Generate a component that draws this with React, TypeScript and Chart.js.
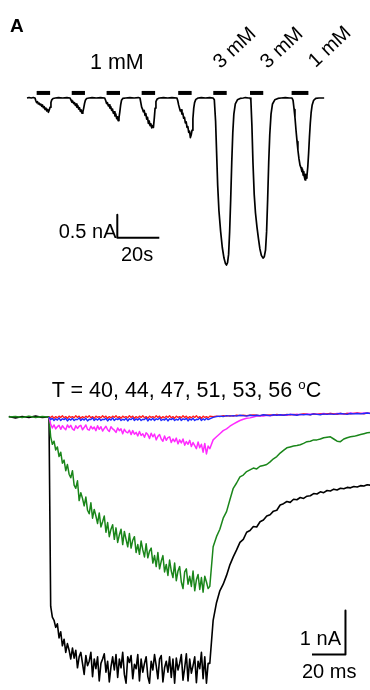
import React, { useEffect, useRef } from "react";
import { Chart, registerables } from "chart.js";

Chart.register(...registerables);

// ---------- Panel A: agonist applications (time in s, current in nA) ----------
const panelATrace: [number, number][] = [
  [0, 0], [1, 0.01], [2, 0], [3, 0.01], [3.8, 0],
  [4.2, -0.06], [4.6, -0.1], [5.0, -0.08], [5.4, -0.13], [5.8, -0.11], [6.2, -0.15], [6.6, -0.13], [7.0, -0.18], [7.4, -0.15], [7.8, -0.21], [8.2, -0.19], [8.6, -0.25], [9.0, -0.22], [9.4, -0.28], [9.8, -0.25], [10.2, -0.31], [10.6, -0.26], [11.0, -0.2], [11.4, -0.1], [11.8, -0.04], [12.4, -0.01], [13.5, 0],
  [15, 0.01], [17, 0], [19, 0.01], [20.5, 0],
  [21, -0.05], [21.4, -0.09], [21.8, -0.07], [22.2, -0.12], [22.6, -0.1], [23.0, -0.16], [23.4, -0.13], [23.8, -0.2], [24.2, -0.17], [24.6, -0.24], [25.0, -0.21], [25.4, -0.29], [25.8, -0.26], [26.2, -0.33], [26.6, -0.3], [27.0, -0.22], [27.4, -0.12], [27.8, -0.05], [28.4, -0.01], [29.5, 0],
  [31, 0.01], [33, 0], [35, 0.01], [37, 0],
  [37.5, -0.06], [37.9, -0.12], [38.3, -0.1], [38.7, -0.17], [39.1, -0.15], [39.5, -0.22], [39.9, -0.19], [40.3, -0.27], [40.7, -0.24], [41.1, -0.33], [41.5, -0.3], [41.9, -0.39], [42.3, -0.35], [42.7, -0.45], [43.1, -0.41], [43.4, -0.49], [43.8, -0.43], [44.2, -0.3], [44.6, -0.15], [45.0, -0.05], [45.6, -0.01], [47, 0],
  [49, 0.01], [51, 0], [53, 0.01], [53.8, 0],
  [54.2, -0.1], [54.6, -0.2], [55.0, -0.24], [55.4, -0.3], [55.8, -0.27], [56.2, -0.38], [56.6, -0.34], [57.0, -0.46], [57.4, -0.42], [57.8, -0.55], [58.2, -0.5], [58.6, -0.6], [59.0, -0.56], [59.4, -0.65], [59.8, -0.6], [60.2, -0.64], [60.6, -0.45], [61.0, -0.22], [61.4, -0.08], [62, -0.02], [63, 0],
  [65, 0.01], [67, 0], [69, 0.01], [71.4, 0],
  [71.8, -0.06], [72.2, -0.15], [72.6, -0.22], [73.0, -0.28], [73.4, -0.26], [73.8, -0.35], [74.2, -0.33], [74.6, -0.44], [75.0, -0.42], [75.4, -0.54], [75.8, -0.52], [76.2, -0.64], [76.6, -0.62], [77.0, -0.75], [77.4, -0.72], [77.8, -0.86], [78.2, -0.8], [78.6, -0.7], [79.0, -0.45], [79.4, -0.22], [79.8, -0.1], [80.4, -0.03], [81.5, 0],
  [83, 0.01], [85, 0], [87, 0.01], [88.6, 0],
  [89.2, -0.04], [89.8, -0.5], [90.3, -1.2], [90.8, -1.9], [91.4, -2.45], [92.2, -2.9], [93.0, -3.25], [93.8, -3.48], [94.5, -3.6], [95.0, -3.63], [95.5, -3.58], [96.0, -3.4], [96.5, -2.9], [97.0, -2.2], [97.5, -1.4], [98.0, -0.75], [98.5, -0.35], [99.2, -0.13], [100.2, -0.04], [101.5, -0.01], [103, 0],
  [104, 0.01], [105.5, 0], [106.2, 0],
  [106.6, -0.04], [107.1, -0.6], [107.6, -1.4], [108.2, -2.1], [108.8, -2.5], [109.5, -2.8], [110.2, -3.05], [110.9, -3.28], [111.6, -3.42], [112.4, -3.48], [113.0, -3.45], [113.6, -3.3], [114.1, -2.9], [114.6, -2.2], [115.1, -1.4], [115.6, -0.8], [116.2, -0.35], [116.9, -0.13], [118, -0.04], [119.5, -0.01], [121, 0],
  [123, 0.01], [125, 0], [126.2, 0],
  [126.7, -0.05], [127.2, -0.25], [127.6, -0.42], [128.1, -0.7], [128.6, -0.95], [129.0, -1.13], [129.5, -1.32], [130.0, -1.46], [130.5, -1.52], [130.9, -1.6], [131.2, -1.55], [131.5, -1.68], [131.8, -1.6], [132.1, -1.72], [132.4, -1.78], [132.7, -1.66], [133.0, -1.74], [133.3, -1.7], [133.7, -1.5], [134.1, -1.2], [134.5, -0.85], [134.9, -0.55], [135.3, -0.32], [135.8, -0.15], [136.5, -0.05], [137.5, -0.01], [139, 0], [141.5, 0],
];
const stimStartS = [4.6, 21.3, 37.9, 54.6, 72.0, 88.7, 106.2, 126.0];
const stimEndS = [11.0, 27.6, 44.3, 61.0, 78.4, 95.1, 112.5, 134.0];
const stimMarkLevelNA = 0.11;
const panelAConcLabels = ["3 mM", "3 mM", "1 mM"];
const panelAScaleS = 20;
const panelAScaleNA = 0.5;
const panelAScaleCorner = [43, -3.04];

// ---------- Panel B: temperature steps (time in ms, current in nA) ----------
const temperaturesC = [40, 44, 47, 51, 53, 56];
const preTimesMs = [-24, -20, -16, -12, -8, -4, -1];
const stimTimesMs = Array.from({ length: 97 }, (_, i) => i);
const postTimesMs = Array.from({ length: 48 }, (_, i) => 98 + 2 * i);

const black56Pre = [0.01, -0.02, 0.01, -0.01, 0.02, -0.01, 0];
const black56Stim = [
  0, -4.3, -4.55, -4.62, -4.78, -4.7, -5.02, -4.88, -5.2, -5.05,
  -5.35, -5.15, -5.3, -5.5, -5.25, -5.48, -5.3, -5.7, -5.45, -5.35,
  -5.6, -5.85, -5.42, -5.65, -5.55, -5.35, -5.9, -5.5, -5.72, -5.45,
  -6.0, -5.6, -5.5, -5.38, -5.8, -5.55, -6.02, -5.68, -5.45, -5.75,
  -5.4, -5.92, -5.5, -5.7, -5.35, -5.85, -6.05, -5.45, -5.58, -5.42,
  -5.95, -5.62, -5.72, -5.4, -6.0, -5.5, -5.8, -5.6, -5.45, -5.9,
  -6.05, -5.55, -5.75, -5.4, -5.65, -5.95, -5.5, -5.42, -6.02, -5.7,
  -5.55, -5.8, -5.45, -5.92, -5.5, -6.05, -5.48, -5.75, -5.6, -5.4,
  -5.98, -5.7, -5.38, -6.0, -5.5, -5.82, -5.65, -5.45, -6.04, -5.55,
  -5.72, -5.35, -5.95, -5.45, -6.05, -5.6, -5.6,
];
const black56Post = [
  -4.62, -4.22, -3.95, -3.8, -3.6, -3.36, -3.18, -3.02, -2.85, -2.78,
  -2.62, -2.58, -2.49, -2.5, -2.38, -2.34, -2.25, -2.22, -2.14, -2.12,
  -2.0, -1.97, -1.92, -1.94, -1.87, -1.88, -1.83, -1.85, -1.8, -1.79,
  -1.74, -1.75, -1.7, -1.72, -1.67, -1.68, -1.64, -1.66, -1.62, -1.63,
  -1.6, -1.61, -1.58, -1.59, -1.56, -1.57, -1.54, -1.55,
];

const green53Pre = [0, 0.01, -0.01, 0.02, -0.01, 0.01, 0];
const green53Stim = [
  0, -0.45, -0.62, -0.55, -0.75, -0.68, -0.9, -0.8, -1.05, -0.98,
  -1.22, -1.08, -1.3, -1.38, -1.22, -1.55, -1.62, -1.45, -1.9, -1.72,
  -1.85, -2.02, -1.82, -2.12, -2.2, -1.95, -2.3, -2.1, -2.25, -2.42,
  -2.18, -2.5, -2.38, -2.25, -2.62, -2.4, -2.72, -2.55, -2.45, -2.78,
  -2.52, -2.85, -2.68, -2.55, -2.9, -2.6, -2.78, -2.95, -2.65, -2.98,
  -2.8, -2.72, -3.08, -2.9, -3.12, -2.82, -3.02, -3.18, -2.88, -3.2,
  -3.05, -2.98, -3.32, -3.15, -3.4, -3.08, -3.45, -3.28, -3.15, -3.52,
  -3.35, -3.6, -3.25, -3.5, -3.65, -3.32, -3.72, -3.5, -3.4, -3.75,
  -3.9, -3.52, -3.45, -3.8, -3.62, -3.85, -3.5, -3.95, -3.7, -3.58,
  -3.92, -3.65, -3.98, -3.62, -3.75, -3.9, -3.85,
];
const green53Post = [
  -2.95, -2.72, -2.55, -2.3, -2.15, -1.88, -1.62, -1.5, -1.36, -1.32,
  -1.24, -1.2, -1.16, -1.18, -1.12, -1.1, -1.08, -1.02, -0.95, -0.9,
  -0.82, -0.76, -0.7, -0.68, -0.66, -0.65, -0.63, -0.6, -0.56, -0.55,
  -0.52, -0.52, -0.5, -0.47, -0.46, -0.45, -0.5, -0.55, -0.56, -0.5,
  -0.47, -0.45, -0.44, -0.42, -0.4, -0.38, -0.36, -0.35,
];

const magenta51Stim = [
  0, -0.16, -0.25, -0.18, -0.27, -0.22, -0.19, -0.28, -0.2, -0.25,
  -0.29, -0.18, -0.24, -0.19, -0.27, -0.3, -0.2, -0.26, -0.21, -0.19,
  -0.29, -0.24, -0.18, -0.28, -0.3, -0.21, -0.27, -0.23, -0.31, -0.2,
  -0.28, -0.22, -0.32, -0.26, -0.21, -0.29, -0.33, -0.22, -0.27, -0.3,
  -0.35, -0.25, -0.31, -0.27, -0.38, -0.28, -0.34, -0.36, -0.3, -0.4,
  -0.31, -0.39, -0.35, -0.43, -0.33, -0.42, -0.38, -0.46, -0.36, -0.4,
  -0.49, -0.37, -0.45, -0.39, -0.52, -0.44, -0.4, -0.5, -0.55, -0.43,
  -0.53, -0.47, -0.45, -0.58, -0.5, -0.56, -0.48, -0.61, -0.52, -0.59,
  -0.5, -0.64, -0.56, -0.62, -0.53, -0.67, -0.58, -0.65, -0.72, -0.57,
  -0.7, -0.62, -0.8, -0.6, -0.84, -0.66, -0.72,
];
const magenta51Post = [
  -0.52, -0.45, -0.38, -0.31, -0.27, -0.21, -0.16, -0.12, -0.08, -0.05,
  -0.03, -0.02, 0, 0.02, 0.03, 0.02, 0.04, 0.03, 0.04, 0.05,
  0.04, 0.05, 0.04, 0.06, 0.05, 0.06, 0.05, 0.06, 0.07, 0.06,
  0.07, 0.06, 0.07, 0.08, 0.07, 0.08, 0.07, 0.08, 0.08, 0.07,
  0.08, 0.09, 0.08, 0.09, 0.08, 0.09, 0.09, 0.08,
];

const blue47Stim = [
  0, -0.06, -0.03, -0.08, -0.04, -0.07, -0.02, -0.08, -0.04, -0.06,
  -0.03, -0.09, -0.04, -0.07, -0.03, -0.08, -0.05, -0.06, -0.02, -0.08,
  -0.04, -0.07, -0.03, -0.09, -0.05, -0.06, -0.02, -0.08, -0.04, -0.07,
  -0.03, -0.08, -0.05, -0.06, -0.03, -0.09, -0.04, -0.07, -0.02, -0.08,
  -0.04, -0.06, -0.03, -0.08, -0.05, -0.07, -0.03, -0.09, -0.04, -0.06,
  -0.02, -0.08, -0.04, -0.07, -0.03, -0.08, -0.05, -0.06, -0.02, -0.09,
  -0.04, -0.07, -0.03, -0.08, -0.04, -0.06, -0.02, -0.08, -0.05, -0.07,
  -0.03, -0.09, -0.04, -0.06, -0.03, -0.08, -0.05, -0.07, -0.02, -0.08,
  -0.04, -0.06, -0.03, -0.09, -0.04, -0.07, -0.03, -0.08, -0.05, -0.06,
  -0.02, -0.08, -0.04, -0.07, -0.03, -0.06, -0.04,
];
const blue47Post = [
  -0.01, 0.01, 0.02, 0.01, 0.03, 0.02, 0.03, 0.02, 0.04, 0.03,
  0.02, 0.04, 0.03, 0.04, 0.03, 0.05, 0.04, 0.03, 0.05, 0.04,
  0.05, 0.04, 0.05, 0.06, 0.05, 0.04, 0.06, 0.05, 0.06, 0.05,
  0.07, 0.06, 0.05, 0.07, 0.06, 0.07, 0.06, 0.07, 0.08, 0.07,
  0.06, 0.08, 0.07, 0.08, 0.07, 0.08, 0.09, 0.08,
];

const red44Stim = [
  0, -0.01, 0.02, -0.03, 0.01, -0.02, 0.02, -0.01, 0.03, -0.02,
  0.01, -0.03, 0.02, -0.01, 0.01, -0.02, 0.03, -0.01, 0.02, -0.03,
  0.01, -0.02, 0.02, -0.01, 0.03, -0.02, 0.01, -0.03, 0.02, -0.01,
  0.01, -0.02, 0.03, -0.01, 0.02, -0.03, 0.01, -0.02, 0.02, -0.01,
  0.03, -0.02, 0.01, -0.03, 0.02, -0.01, 0.01, -0.02, 0.03, -0.01,
  0.02, -0.03, 0.01, -0.02, 0.02, -0.01, 0.03, -0.02, 0.01, -0.03,
  0.02, -0.01, 0.01, -0.02, 0.03, -0.01, 0.02, -0.03, 0.01, -0.02,
  0.02, -0.01, 0.03, -0.02, 0.01, -0.03, 0.02, -0.01, 0.01, -0.02,
  0.03, -0.01, 0.02, -0.03, 0.01, -0.02, 0.02, -0.01, 0.03, -0.02,
  0.01, -0.03, 0.02, -0.01, 0.01, -0.02, 0.02,
];
const red44Post = [
  0.01, 0.02, 0.01, 0.03, 0.02, 0.03, 0.02, 0.04, 0.03, 0.04,
  0.03, 0.04, 0.05, 0.04, 0.03, 0.05, 0.04, 0.05, 0.04, 0.06,
  0.05, 0.04, 0.06, 0.05, 0.06, 0.05, 0.06, 0.07, 0.06, 0.05,
  0.07, 0.06, 0.07, 0.06, 0.07, 0.08, 0.07, 0.06, 0.08, 0.07,
  0.08, 0.07, 0.08, 0.09, 0.08, 0.07, 0.09, 0.08,
];

const panelBScaleMs = 20;
const panelBScaleNA = 1;
const panelBScaleCorner = [177, -5.4];

// ---------- helpers ----------
const FONT = '"Liberation Sans", Arial, Helvetica, sans-serif';

function zip(xs: number[], ys: number[]) {
  const n = Math.min(xs.length, ys.length);
  const out: { x: number; y: number }[] = [];
  for (let i = 0; i < n; i++) out.push({ x: xs[i], y: ys[i] });
  return out;
}

function trace(pre: number[] | null, stim: number[], post: number[]) {
  return [
    ...(pre ? zip(preTimesMs, pre) : []),
    ...zip(stimTimesMs, stim),
    ...zip(postTimesMs, post),
  ];
}

function lineDs(data: { x: number; y: number }[], color: string, width: number) {
  return {
    data,
    borderColor: color,
    backgroundColor: color,
    borderWidth: width,
    pointRadius: 0,
    fill: false,
    tension: 0,
    clip: false as any,
    borderCapStyle: "butt" as const,
    borderJoinStyle: "round" as const,
  };
}

function makeChart(
  canvas: HTMLCanvasElement,
  datasets: any[],
  xr: [number, number],
  yr: [number, number]
) {
  return new Chart(canvas, {
    type: "line",
    data: { datasets },
    options: {
      animation: false,
      responsive: false,
      maintainAspectRatio: false,
      events: [],
      layout: { padding: 0 },
      plugins: { legend: { display: false }, tooltip: { enabled: false } },
      scales: {
        x: { type: "linear", min: xr[0], max: xr[1], display: false },
        y: { type: "linear", min: yr[0], max: yr[1], display: false },
      },
    },
  });
}

export default function App() {
  const topRef = useRef<HTMLCanvasElement>(null);
  const botRef = useRef<HTMLCanvasElement>(null);

  useEffect(() => {
    // Panel A
    const stimSets = stimStartS.map((s, i) =>
      lineDs(
        [
          { x: s, y: stimMarkLevelNA },
          { x: stimEndS[i], y: stimMarkLevelNA },
        ],
        "#000",
        4
      )
    );
    const [ax, ay] = panelAScaleCorner;
    const topSets = [
      lineDs(panelATrace.map(([x, y]) => ({ x, y })), "#000", 1.7),
      ...stimSets,
      lineDs(
        [
          { x: ax, y: ay + panelAScaleNA },
          { x: ax, y: ay },
          { x: ax + panelAScaleS, y: ay },
        ],
        "#000",
        2
      ),
    ];
    const c1 = makeChart(topRef.current!, topSets, [-12.857, 163.333], [-4.3913, 2.1304]);

    // Panel B (first dataset drawn on top)
    const [bx, by] = panelBScaleCorner;
    const botSets = [
      lineDs(trace(null, blue47Stim, blue47Post), "#1f2bff", 1.4),
      lineDs(trace(null, red44Stim, red44Post), "#ff1a1a", 1.3),
      lineDs(trace(null, magenta51Stim, magenta51Post), "#ff2bff", 1.5),
      lineDs(trace(green53Pre, green53Stim, green53Post), "#1a861a", 1.5),
      lineDs(trace(black56Pre, black56Stim, black56Post), "#000", 1.6),
      lineDs(
        [
          { x: bx, y: by + panelBScaleNA },
          { x: bx, y: by },
          { x: bx - panelBScaleMs, y: by },
        ],
        "#000",
        2
      ),
    ];
    const c2 = makeChart(botRef.current!, botSets, [-29.254, 191.642], [-6.2045, 0.5]);

    return () => {
      c1.destroy();
      c2.destroy();
    };
  }, []);

  const txt = (fs: number, extra: React.CSSProperties = {}): React.CSSProperties => ({
    position: "absolute",
    fontFamily: FONT,
    fontSize: fs,
    lineHeight: 1,
    whiteSpace: "nowrap",
    color: "#000",
    ...extra,
  });

  const rotCenters = [
    [234, 47],
    [281, 47],
    [329, 46],
  ];

  return (
    <div
      style={{
        position: "fixed",
        left: 0,
        top: 0,
        width: 370,
        height: 690,
        background: "#fff",
        overflow: "hidden",
      }}
    >
      <canvas
        ref={topRef}
        width={370}
        height={300}
        style={{ position: "absolute", left: 0, top: 0, width: 370, height: 300 }}
      />
      <canvas
        ref={botRef}
        width={370}
        height={295}
        style={{ position: "absolute", left: 0, top: 395, width: 370, height: 295 }}
      />

      <div style={txt(19, { left: 10, top: 16, fontWeight: "bold" })}>A</div>
      <div style={txt(21.5, { left: 90, top: 52 })}>1 mM</div>
      {panelAConcLabels.map((lab, i) => (
        <div
          key={i}
          style={txt(20, {
            left: rotCenters[i][0],
            top: rotCenters[i][1],
            transform: "translate(-50%, -50%) rotate(-43deg)",
          })}
        >
          {lab}
        </div>
      ))}
      <div style={txt(20, { right: 370 - 116.5, top: 220.5, textAlign: "right" })}>
        {panelAScaleNA} nA
      </div>
      <div style={txt(20, { left: 121, top: 244 })}>{panelAScaleS}s</div>

      <div
        style={txt(21.5, {
          left: 186.5,
          top: 378,
          transform: "translateX(-50%)",
        })}
      >
        T = {temperaturesC.join(", ")}{" "}
        <span style={{ fontSize: "0.62em", verticalAlign: "0.62em" }}>o</span>C
      </div>

      <div style={txt(20, { right: 370 - 341, top: 628, textAlign: "right" })}>
        {panelBScaleNA} nA
      </div>
      <div style={txt(20, { left: 302, top: 660.5 })}>{panelBScaleMs} ms</div>
    </div>
  );
}
